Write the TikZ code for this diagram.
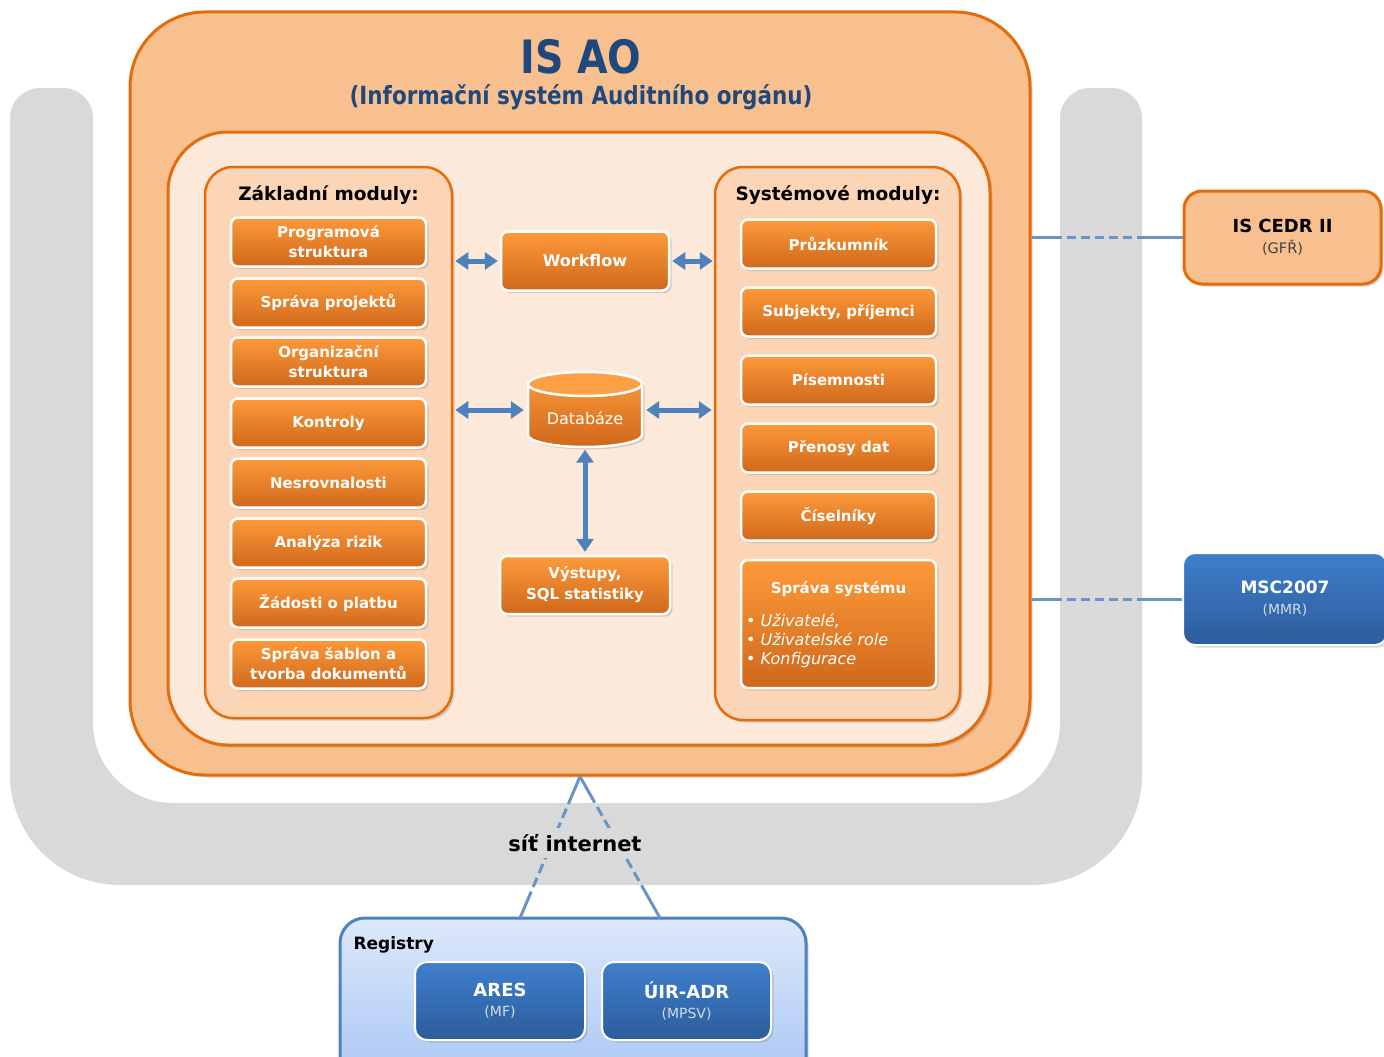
\documentclass[tikz,border=0pt]{standalone}
\usepackage{fontspec}
\setmainfont{DejaVu Sans}
\newfontfamily\condfont[FakeStretch=0.86]{DejaVu Sans}
\usetikzlibrary{shadows,arrows.meta,calc}
\definecolor{orLine}{HTML}{E46C0A}
\definecolor{peach}{HTML}{F9C08F}
\definecolor{lightpeach}{HTML}{FDE9D9}
\definecolor{panelfill}{HTML}{FBD5B5}
\definecolor{btnTop}{HTML}{FD9A3A}
\definecolor{btnBot}{HTML}{CF681C}
\definecolor{blueLine}{HTML}{4F81BD}
\definecolor{titleBlue}{HTML}{1F497D}
\definecolor{bgGray}{HTML}{D9D9D9}
\definecolor{bluTop}{HTML}{3F7FCD}
\definecolor{bluBot}{HTML}{2C5C9A}
\definecolor{regTop}{HTML}{DDE8FA}
\definecolor{regBot}{HTML}{A7C5F5}
\definecolor{subGray}{HTML}{404040}
\definecolor{paleText}{HTML}{D0DCEE}
\begin{document}
\begin{tikzpicture}[x=1pt,y=-1pt,
  softshadow/.style={drop shadow={shadow xshift=2.5pt,shadow yshift=-2.5pt,opacity=0.3}},
  bigbox/.style={rounded corners=#1, fill=peach, draw=orLine, line width=3pt, inner sep=0pt},
  panel/.style={rounded corners=28pt, fill=panelfill, draw=orLine, line width=2.5pt, inner sep=0pt, softshadow},
  btn/.style={rounded corners=7pt, draw=white, line width=2.5pt, top color=btnTop, bottom color=btnBot,
     text=white, font=\bfseries\fontsize{15}{20}\selectfont, align=center, minimum width=195pt,
     minimum height=49pt, inner sep=2pt, softshadow},
  bluebtn/.style={rounded corners=12pt, draw=white, line width=2pt, top color=bluTop, bottom color=bluBot,
     text=white, align=center, inner sep=2pt, softshadow},
  heading/.style={font=\bfseries\fontsize{18.5}{22}\selectfont, text=black},
  dbl/.style={{Triangle[length=13pt,width=17pt]}-{Triangle[length=13pt,width=17pt]}, line width=5pt, draw=blueLine},
  link/.style={line width=3pt, draw=blueLine!85}
]
\useasboundingbox (0,0) rectangle (1384,1057);
\clip (0,0) rectangle (1384,1057);
\fill[white] (0,0) rectangle (1384,1057);
% gray background frame
\fill[bgGray] (10,500) [rounded corners=30pt] -- (10,88) -- (93,88) -- (93,300)
   [rounded corners=80pt] -- (93,803) -- (500,803) -- (1060,803) -- (1060,300)
   [rounded corners=30pt] -- (1060,88) -- (1142,88) -- (1142,300)
   [rounded corners=110pt] -- (1142,885) -- (10,885) -- (10,500) -- cycle;

% outer IS AO box
\node[bigbox=75pt, minimum width=900pt, minimum height=763pt, softshadow] (isao) at (580,393.5) {};
\node[font=\condfont\bfseries\fontsize{46}{50}\selectfont, text=titleBlue] (title) at (581,57) {IS AO};
\node[font=\condfont\bfseries\fontsize{25}{28}\selectfont, text=titleBlue] (subtitle) at (581,97) {(Informační systém Auditního orgánu)};

% inner light box
\node[rounded corners=60pt, fill=lightpeach, draw=orLine, line width=3pt, minimum width=822pt, minimum height=613pt, inner sep=0pt, softshadow] (inner) at (579,438.5) {};

% panels
\node[panel, minimum width=247pt, minimum height=551pt] (lp) at (328.5,442.5) {};
\node[panel, minimum width=245pt, minimum height=553pt] (rp) at (837.5,443.5) {};
\node[heading] (lh) at (328.5,195) {Základní moduly:};
\node[heading] (rh) at (838,195) {Systémové moduly:};

% left modules
\node[btn] (l1) at (328.5,242) {Programová\\struktura};
\node[btn] (l2) at (328.5,303) {Správa projektů};
\node[btn] (l3) at (328.5,362) {Organizační\\struktura};
\node[btn] (l4) at (328.5,423) {Kontroly};
\node[btn] (l5) at (328.5,483) {Nesrovnalosti};
\node[btn] (l6) at (328.5,543) {Analýza rizik};
\node[btn] (l7) at (328.5,603) {Žádosti o platbu};
\node[btn] (l8) at (328.5,664) {Správa šablon a\\tvorba dokumentů};

% right modules
\node[btn] (r1) at (838.5,244) {Průzkumník};
\node[btn] (r2) at (838.5,312) {Subjekty, příjemci};
\node[btn] (r3) at (838.5,380) {Písemnosti};
\node[btn] (r4) at (838.5,448) {Přenosy dat};
\node[btn] (r5) at (838.5,516) {Číselníky};
\node[btn, minimum height=128pt] (r6) at (838.5,624) {};
\node[text=white, font=\bfseries\fontsize{15}{18}\selectfont] (r6t) at (838.5,589) {Správa systému};
\node[text=white, font=\fontsize{16}{19}\selectfont, align=left, anchor=west, inner sep=0pt] (r6b) at (746,641)
  {•\hspace{5pt}\textit{Uživatelé,}\\ •\hspace{5pt}\textit{Uživatelské role}\\ •\hspace{5pt}\textit{Konfigurace}};

% centre
\node[btn, minimum width=168pt, minimum height=59pt, font=\bfseries\fontsize{16}{20}\selectfont] (wf) at (585,261) {Workflow};
\node[btn, minimum width=170pt, minimum height=58pt, font=\bfseries\fontsize{15}{21}\selectfont] (out) at (585,585) {Výstupy,\\SQL statistiky};
% database cylinder
\path[draw=white, line width=2.5pt, top color=btnTop, bottom color=btnBot, softshadow]
  (528,384) -- (528,435) arc[start angle=180, end angle=0, x radius=57, y radius=12]
  -- (642,384) arc[start angle=0, end angle=-180, x radius=57, y radius=12] -- cycle;
\path[draw=white, line width=2.5pt, fill=btnTop!95!white] (585,384) ellipse[x radius=57, y radius=12];
\node[minimum width=116pt, minimum height=77pt, inner sep=0pt] (db) at (585,410) {};
\node[text=white, font=\fontsize{16}{18}\selectfont] (dbt) at (585,418) {Databáze};

% arrows
\draw[dbl, shorten <=2pt, shorten >=2pt] (lp.east |- wf.west) -- (wf.west);
\draw[dbl, shorten <=2pt, shorten >=1pt] (wf.east) -- (rp.west |- wf.east);
\draw[dbl, shorten <=2pt, shorten >=3pt] (lp.east |- db.west) -- (db.west);
\draw[dbl, shorten <=3pt, shorten >=2pt] (db.east) -- (rp.west |- db.east);
\draw[dbl, shorten <=1pt, shorten >=3pt] (db.south) -- (out.north);

% external systems
\node[rounded corners=18pt, fill=peach, draw=orLine, line width=3pt, minimum width=197pt, minimum height=93pt, align=center, softshadow, font=\fontsize{18}{21}\selectfont] (cedr) at (1282.5,237.5)
  {\textbf{IS CEDR II}\\{\color{subGray}\fontsize{14.5}{16}\selectfont (GFŘ)}};
\node[bluebtn, minimum width=204pt, minimum height=92pt, font=\fontsize{17}{21}\selectfont] (msc) at (1285,599)
  {\textbf{MSC2007}\\{\color{paleText}\fontsize{14}{16}\selectfont (MMR)}};

\draw[link, dash pattern=on 30pt off 5pt on 9pt off 5pt on 9pt off 5pt on 9pt off 5pt on 9pt off 5pt on 9pt off 5pt on 70pt] (isao.east |- cedr.west) -- (cedr.west);
\draw[link, dash pattern=on 30pt off 5pt on 9pt off 5pt on 9pt off 5pt on 9pt off 5pt on 9pt off 5pt on 9pt off 5pt on 70pt] (isao.east |- msc.west) -- (msc.west);

% registry
\node[rounded corners=25pt, top color=regTop, bottom color=regBot, draw=blueLine, line width=3pt, minimum width=466pt, minimum height=170pt, inner sep=0pt, softshadow] (reg) at (573,1003) {};
\node[font=\bfseries\fontsize{17}{20}\selectfont, anchor=west] (regt) at (350,945) {Registry};
\node[bluebtn, minimum width=170pt, minimum height=78pt, font=\fontsize{18}{20}\selectfont] (ares) at (500,1001)
  {\textbf{ARES}\\{\color{paleText}\fontsize{14}{15}\selectfont (MF)}};
\node[bluebtn, minimum width=169pt, minimum height=78pt, font=\fontsize{18}{20}\selectfont] (uir) at (686.5,1001)
  {\textbf{ÚIR-ADR}\\{\color{paleText}\fontsize{14}{15}\selectfont (MPSV)}};

% internet links
\coordinate (rl) at (520,918);
\coordinate (rr) at (660,918);
\draw[link, dash pattern=on 30pt off 5pt on 10pt off 5pt on 10pt off 5pt on 10pt off 5pt on 10pt off 5pt on 10pt off 5pt on 10pt off 5pt on 70pt] (isao.south) -- (rl);
\draw[link, dash pattern=on 30pt off 5pt on 10pt off 5pt on 10pt off 5pt on 10pt off 5pt on 10pt off 5pt on 10pt off 5pt on 10pt off 5pt on 70pt] (isao.south) -- (rr);
\node[fill=bgGray, inner xsep=2pt, inner ysep=6pt, font=\bfseries\fontsize{21}{24}\selectfont] (net) at (575,843) {síť internet};
\end{tikzpicture}
\end{document}
